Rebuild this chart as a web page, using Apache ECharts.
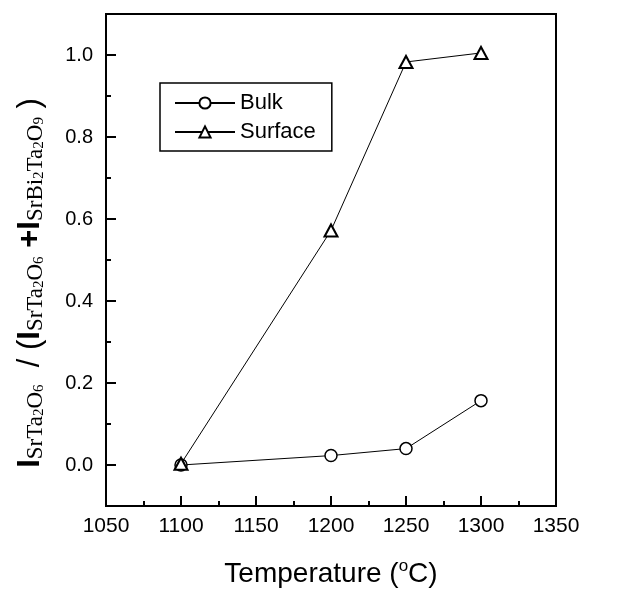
<!DOCTYPE html>
<html>
<head>
<meta charset="utf-8">
<script src="https://cdn.jsdelivr.net/npm/echarts@6/dist/echarts.min.js"></script>
<style>
  html, body { margin: 0; padding: 0; background: #fff; }
  #chart { width: 637px; height: 593px; }
</style>
</head>
<body>
<div id="chart"></div>
<script>
// Annealing temperature (°C)
const temperatures = [1100, 1200, 1250, 1300];
// Intensity ratio of the SrTa2O6 phase
const bulkRatio = [0.0, 0.023, 0.040, 0.157];
const surfaceRatio = [0.003, 0.572, 0.983, 1.005];
// Axis tick positions
const yMajorTicks = [0.0, 0.2, 0.4, 0.6, 0.8, 1.0];
const yMinorTicks = [0.1, 0.3, 0.5, 0.7, 0.9];

const SANS = 'Liberation Sans';
const SERIF = 'Liberation Serif';

const chart = echarts.init(document.getElementById('chart'), null, { renderer: 'canvas' });

const pair = (xs, ys) => xs.map((x, i) => [x, ys[i]]);

// rich-text styles for the rotated y-axis title
const big = { fontFamily: SANS, fontSize: 31, verticalAlign: 'middle', lineHeight: 34, color: '#000' };
const bigBold = Object.assign({}, big, { fontWeight: 'bold' });
const sub = { fontFamily: SERIF, fontSize: 23, verticalAlign: 'bottom', lineHeight: 13, color: '#000' };
const sub2 = { fontFamily: SERIF, fontSize: 15, verticalAlign: 'bottom', lineHeight: 5, color: '#000' };
const yTitle =
  '{I|I}{s|SrTa}{d|2}{s|O}{d|6}{b|  / (}{I|I}{s|SrTa}{d|2}{s|O}{d|6}{b| }{I|+}{I|I}{s|SrBi}{d|2}{s|Ta}{d|2}{s|O}{d|9}{b| )}';

const option = {
  animation: false,
  backgroundColor: '#fff',
  grid: {
    left: 106, right: 81, top: 14, bottom: 84,
    show: true, borderColor: '#000', borderWidth: 2, backgroundColor: 'transparent'
  },
  legend: {
    orient: 'vertical',
    left: 160, top: 83,
    itemWidth: 60, itemHeight: 14, itemGap: 7,
    padding: [9, 16, 8, 14],
    borderColor: '#000', borderWidth: 1.5, borderRadius: 0,
    textStyle: { fontFamily: SANS, fontSize: 22, color: '#000' },
    data: ['Bulk', 'Surface']
  },
  xAxis: [{
    type: 'value', min: 1050, max: 1350, interval: 50,
    axisLine: { show: true, onZero: false, lineStyle: { color: '#000', width: 2 } },
    axisTick: { inside: true, length: 10, lineStyle: { color: '#000', width: 2 } },
    minorTick: { show: true, splitNumber: 2, length: 5, lineStyle: { color: '#000', width: 2 } },
    splitLine: { show: false },
    axisLabel: { fontFamily: SANS, fontSize: 21, color: '#000', margin: 10, formatter: v => String(v) },
    name: '{t|Temperature (}{o|o}{t|C)}',
    nameLocation: 'middle', nameGap: 52,
    nameTextStyle: {
      rich: {
        t: { fontFamily: SANS, fontSize: 28, color: '#000', verticalAlign: 'middle', lineHeight: 32 },
        o: { fontFamily: SANS, fontSize: 17, color: '#000', verticalAlign: 'top', lineHeight: 20 }
      }
    }
  }],
  yAxis: [{
    type: 'value', min: -0.1, max: 1.1,
    axisLine: { show: true, onZero: false, lineStyle: { color: '#000', width: 2 } },
    axisTick: { inside: true, length: 10, customValues: yMajorTicks, lineStyle: { color: '#000', width: 2 } },
    axisLabel: {
      fontFamily: SANS, fontSize: 20, color: '#000', margin: 13,
      customValues: yMajorTicks, formatter: v => v.toFixed(1)
    },
    splitLine: { show: false }
  }, {
    // second copy of the left axis carrying the minor ticks
    type: 'value', min: -0.1, max: 1.1, position: 'left', offset: 0,
    axisLine: { show: false, onZero: false },
    axisTick: { inside: true, length: 5, customValues: yMinorTicks, lineStyle: { color: '#000', width: 2 } },
    axisLabel: { show: false, customValues: yMinorTicks },
    splitLine: { show: false }
  }],
  graphic: [{
    type: 'text',
    x: 30, y: 283,
    rotation: Math.PI / 2,
    style: {
      text: yTitle,
      align: 'center', verticalAlign: 'middle',
      rich: { I: bigBold, b: big, s: sub, d: sub2 }
    }
  }],
  series: [{
    name: 'Bulk', type: 'line',
    data: pair(temperatures, bulkRatio),
    symbol: 'circle', symbolSize: 12,
    itemStyle: { color: '#fff', borderColor: '#000', borderWidth: 1.5 },
    lineStyle: { color: '#000', width: 1 },
    z: 3
  }, {
    name: 'Surface', type: 'line',
    data: pair(temperatures, surfaceRatio),
    symbol: 'triangle', symbolSize: [13, 12],
    itemStyle: { color: '#fff', borderColor: '#000', borderWidth: 2 },
    lineStyle: { color: '#000', width: 1 },
    z: 4
  }]
};

chart.setOption(option);
</script>
</body>
</html>
